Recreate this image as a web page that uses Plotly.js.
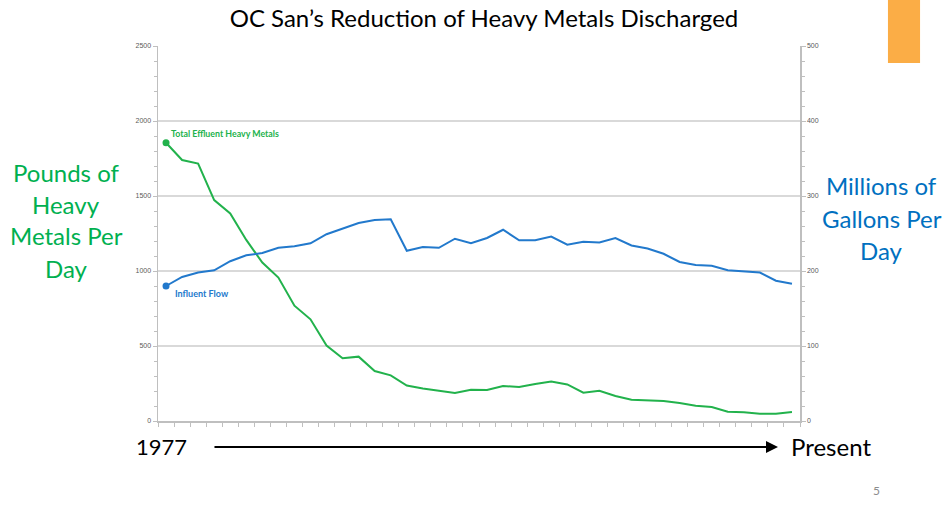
<!DOCTYPE html>
<html>
<head>
<meta charset="utf-8">
<script src="https://cdn.plot.ly/plotly-3.0.1.min.js"></script>
<style>html,body{margin:0;padding:0;background:#fff;}#chart{width:949px;height:519px;}</style>
</head>
<body>
<div id="chart"></div>
<script>
// Categories (one per year, 1977 onward)
var years = ["1977","1978","1979","1980","1981","1982","1983","1984","1985","1986",
             "1987","1988","1989","1990","1991","1992","1993","1994","1995","1996",
             "1997","1998","1999","2000","2001","2002","2003","2004","2005","2006",
             "2007","2008","2009","2010","2011","2012","2013","2014","2015","2016"];

// Total Effluent Heavy Metals (pounds per day, left axis)
var metals = [1855, 1740, 1716, 1473, 1384, 1207, 1056, 956, 769, 678,
              503, 418, 429, 333, 304, 236, 216, 202, 187, 209,
              207, 233, 227, 247, 264, 244, 189, 202, 167, 142,
              140, 133, 120, 102, 93, 62, 58, 49, 49, 60];

// Influent Flow (million gallons per day, right axis)
var flow = [180, 192, 198, 201, 213, 221, 224, 231, 233, 237,
            249, 257, 264, 268, 269, 227, 232, 231, 243, 237,
            244, 255, 241, 241, 246, 235, 239, 238, 244, 234,
            230, 223, 212, 208, 207, 201, 200, 198, 187, 183];

var GREEN_LINE = '#22b24c';
var BLUE_LINE = '#2279cc';
var GREEN_TEXT = '#00b050';
var BLUE_TEXT = '#0070c0';
var AXIS = '#bfbfbf';
var FONT = 'Lato, "Open Sans", sans-serif';

var traces = [
  {x: years, y: metals, type: 'scatter', mode: 'lines', yaxis: 'y',
   line: {color: GREEN_LINE, width: 2}, hoverinfo: 'skip'},
  {x: years, y: flow, type: 'scatter', mode: 'lines', yaxis: 'y2',
   line: {color: BLUE_LINE, width: 2}, hoverinfo: 'skip'},
  {x: [years[0]], y: [metals[0]], type: 'scatter', mode: 'markers', yaxis: 'y',
   marker: {color: GREEN_LINE, size: 7}, hoverinfo: 'skip'},
  {x: [years[0]], y: [flow[0]], type: 'scatter', mode: 'markers', yaxis: 'y2',
   marker: {color: BLUE_LINE, size: 7}, hoverinfo: 'skip'}
];

var tickFont = {family: 'Liberation Sans, Arial, sans-serif', size: 7, color: '#595959'};

function line(text, cx, cy, color, size) {
  return {xref: 'paper', yref: 'paper', x: (cx - 158) / 642, y: (421 - cy) / 375,
          xanchor: 'center', yanchor: 'middle', text: text, showarrow: false,
          font: {family: FONT, size: size, color: color}};
}

var layout = {
  width: 949, height: 519,
  margin: {l: 158, r: 149, t: 46, b: 98, pad: 0},
  paper_bgcolor: '#ffffff', plot_bgcolor: '#ffffff',
  showlegend: false,
  title: {text: 'OC San\u2019s Reduction of Heavy Metals Discharged',
          font: {family: FONT, size: 24, color: '#000000'},
          x: 0.51, xanchor: 'center', y: 0.965, yanchor: 'middle'},
  xaxis: {type: 'category', range: [-0.5, 39.5], tickson: 'boundaries',
          ticks: 'outside', ticklen: 4, tickcolor: AXIS, tickwidth: 1,
          showticklabels: false, showgrid: false, zeroline: false,
          showline: true, linecolor: AXIS, linewidth: 1.5},
  yaxis: {range: [0, 2500], tickvals: [0, 500, 1000, 1500, 2000, 2500],
          ticks: 'outside', ticklen: 4, tickcolor: AXIS, tickfont: tickFont,
          showgrid: true, gridcolor: '#d9d9d9', gridwidth: 1.5, zeroline: false,
          showline: true, linecolor: AXIS, linewidth: 1.5,
          minor: {dtick: 100, ticks: 'outside', ticklen: 3, tickcolor: AXIS, showgrid: false}},
  yaxis2: {range: [0, 500], tickvals: [0, 100, 200, 300, 400, 500], overlaying: 'y', side: 'right',
          ticks: 'outside', ticklen: 4, tickcolor: AXIS, tickfont: tickFont,
          showgrid: false, zeroline: false,
          showline: true, linecolor: AXIS, linewidth: 1.5,
          minor: {dtick: 20, ticks: 'outside', ticklen: 3, tickcolor: AXIS, showgrid: false}},
  annotations: [
    {xref: 'paper', yref: 'paper', x: 0.0171, y: 0.768, xanchor: 'left', yanchor: 'middle',
     text: '<b>Total Effluent Heavy Metals</b>', showarrow: false,
     font: {family: FONT, size: 8.8, color: GREEN_LINE}},
    {xref: 'paper', yref: 'paper', x: 0.0234, y: 0.339, xanchor: 'left', yanchor: 'middle',
     text: '<b>Influent Flow</b>', showarrow: false,
     font: {family: FONT, size: 9, color: BLUE_LINE}},
    line('Pounds of', 66, 172, GREEN_TEXT, 24),
    line('Heavy', 66, 204, GREEN_TEXT, 24),
    line('Metals Per', 66, 236, GREEN_TEXT, 24),
    line('Day', 66, 268, GREEN_TEXT, 24),
    line('Millions of', 882, 186, BLUE_TEXT, 24),
    line('Gallons Per', 882, 218, BLUE_TEXT, 24),
    line('Day', 882, 250, BLUE_TEXT, 24),
    line('1977', 161, 446, '#000000', 22),
    line('Present', 831, 446, '#000000', 24),
    {xref: 'paper', yref: 'paper', x: 0.9657, y: -0.0693, text: '', showarrow: true,
     ax: -565, ay: 0, axref: 'pixel', ayref: 'pixel',
     arrowhead: 2, arrowsize: 1.2, arrowwidth: 2, arrowcolor: '#000000'},
    line('5', 876, 490, '#8c8c8c', 12)
  ],
  shapes: [
    {type: 'rect', xref: 'paper', yref: 'paper', x0: 1.137, x1: 1.187, y0: 0.9547, y1: 1.13,
     fillcolor: '#fbad46', line: {width: 0}}
  ]
};

Plotly.newPlot('chart', traces, layout, {displayModeBar: false, staticPlot: true});
</script>
</body>
</html>
